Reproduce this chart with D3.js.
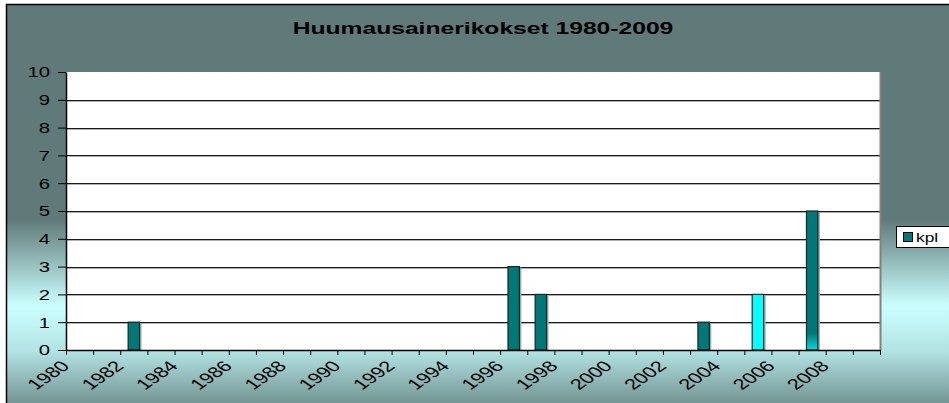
<!DOCTYPE html>
<html>
<head>
<meta charset="utf-8">
<script src="https://cdn.jsdelivr.net/npm/d3@7"></script>
<style>
  body { margin: 0; background: #fff; }
  svg { display: block; }
  text { font-family: "Liberation Sans", Arial, sans-serif; fill: #000; }
</style>
</head>
<body>
<div id="chart"></div>
<script>
// Data
const chartTitle = "Huumausainerikokset 1980-2009";
const seriesName = "kpl";
const years = ["1980", "1981", "1982", "1983", "1984", "1985", "1986", "1987", "1988", "1989",
  "1990", "1991", "1992", "1993", "1994", "1995", "1996", "1997", "1998", "1999",
  "2000", "2001", "2002", "2003", "2004", "2005", "2006", "2007", "2008", "2009"];
const counts = [0, 0, 1, 0, 0, 0, 0, 0, 0, 0,
  0, 0, 0, 0, 0, 0, 3, 2, 0, 0,
  0, 0, 0, 1, 0, 2, 0, 5, 0, 0];
const tickYears = ["1980", "1982", "1984", "1986", "1988", "1990", "1992", "1994",
  "1996", "1998", "2000", "2002", "2004", "2006", "2008"];
const yTicks = [0, 1, 2, 3, 4, 5, 6, 7, 8, 9, 10];

const width = 949;
const height = 403;
const stretch = 1.45; // the source image is widened, text looks wide
const plot = { left: 66, right: 880, top: 72, bottom: 350 };

const svg = d3.select("#chart").append("svg")
  .attr("width", width)
  .attr("height", height);

const defs = svg.append("defs");
const bg = defs.append("linearGradient")
  .attr("id", "bg-grad")
  .attr("x1", "0%").attr("y1", "0%")
  .attr("x2", "0%").attr("y2", "100%");
bg.selectAll("stop").data([
  { offset: "0%", color: "#5f7a78" },
  { offset: "52%", color: "#5f7a78" },
  { offset: "73%", color: "#cbffff" },
  { offset: "84%", color: "#b2e2e2" },
  { offset: "100%", color: "#62807e" },
]).join("stop")
  .attr("offset", (d) => d.offset)
  .attr("stop-color", (d) => d.color);

// 2007 bar fades into cyan at the foot
const barGrad = defs.append("linearGradient")
  .attr("id", "bar-grad")
  .attr("x1", "0%").attr("y1", "0%")
  .attr("x2", "0%").attr("y2", "100%");
barGrad.selectAll("stop").data([
  { offset: "0%", color: "#007878" },
  { offset: "88%", color: "#007878" },
  { offset: "100%", color: "#00dcdc" },
]).join("stop")
  .attr("offset", (d) => d.offset)
  .attr("stop-color", (d) => d.color);

// chart area
svg.append("rect")
  .attr("x", 6.5).attr("y", 4.5)
  .attr("width", width + 10).attr("height", height + 10)
  .attr("fill", "url(#bg-grad)")
  .attr("stroke", "#000").attr("stroke-width", 1.5);

// title
svg.append("text")
  .attr("transform", `translate(483,34) scale(${stretch},1)`)
  .attr("text-anchor", "middle")
  .attr("font-size", "17px")
  .attr("font-weight", "bold")
  .text(chartTitle);

// scales
const xScale = d3.scaleBand().domain(years).range([plot.left, plot.right]).padding(0);
const yScale = d3.scaleLinear().domain([0, 10]).range([plot.bottom, plot.top]);
const edgeScale = d3.scaleLinear().domain([0, years.length]).range([plot.left, plot.right]);

// plot area
svg.append("rect")
  .attr("x", plot.left).attr("y", plot.top)
  .attr("width", plot.right - plot.left)
  .attr("height", plot.bottom - plot.top)
  .attr("fill", "#fff");

const gridG = svg.append("g").attr("class", "grid");
const gridVals = yTicks.filter((v) => v > 0 && v < 10);
gridG.selectAll("line.shade").data(gridVals).join("line")
  .attr("class", "shade")
  .attr("x1", plot.left).attr("x2", plot.right)
  .attr("y1", (d) => Math.round(yScale(d)) + 1.5)
  .attr("y2", (d) => Math.round(yScale(d)) + 1.5)
  .attr("stroke", "#b0b0b0");
gridG.selectAll("line.main").data(gridVals).join("line")
  .attr("class", "main")
  .attr("x1", plot.left).attr("x2", plot.right)
  .attr("y1", (d) => Math.round(yScale(d)) + 0.5)
  .attr("y2", (d) => Math.round(yScale(d)) + 0.5)
  .attr("stroke", "#1a1a1a");

// right border of plot
svg.append("line")
  .attr("x1", plot.right + 0.5).attr("x2", plot.right + 0.5)
  .attr("y1", plot.top).attr("y2", plot.bottom)
  .attr("stroke", "#808080").attr("stroke-width", 2);

// bars
const barW = xScale.bandwidth() * 0.42;
const barData = years.map((y, i) => ({ year: y, value: counts[i] })).filter((d) => d.value > 0);
const fills = { "2005": "#00ffff", "2007": "url(#bar-grad)" };

const barsG = svg.append("g").attr("class", "bars");
barsG.selectAll("rect.shadow").data(barData).join("rect")
  .attr("class", "shadow")
  .attr("x", (d) => xScale(d.year) + (xScale.bandwidth() - barW) / 2 + 2)
  .attr("y", (d) => yScale(d.value) + 1)
  .attr("width", barW)
  .attr("height", (d) => yScale(0) - yScale(d.value) - 1)
  .attr("fill", "#a8a8a8");
barsG.selectAll("rect.bar").data(barData).join("rect")
  .attr("class", "bar")
  .attr("x", (d) => xScale(d.year) + (xScale.bandwidth() - barW) / 2)
  .attr("y", (d) => yScale(d.value))
  .attr("width", barW)
  .attr("height", (d) => yScale(0) - yScale(d.value))
  .attr("fill", (d) => fills[d.year] || "#007878")
  .attr("stroke", "#0d2a2a").attr("stroke-width", 1.2);

// y axis
const yAxisG = svg.append("g")
  .attr("transform", `translate(${plot.left},0)`)
  .call(d3.axisLeft(yScale).tickValues(yTicks).tickSize(8).tickSizeOuter(0));
yAxisG.select(".domain").attr("stroke", "#000").attr("stroke-width", 1.5);
yAxisG.selectAll(".tick line").attr("stroke", "#000");
yAxisG.selectAll(".tick text")
  .attr("x", null)
  .attr("dy", "0.35em")
  .attr("transform", `translate(-16,0) scale(${stretch},1)`)
  .attr("font-size", "14px")
  .attr("font-family", "Liberation Sans, Arial, sans-serif")
  .attr("fill", "#000");

// x axis: ticks sit on category edges
const xAxisG = svg.append("g")
  .attr("transform", `translate(0,${plot.bottom})`)
  .call(d3.axisBottom(edgeScale).tickValues(d3.range(0, years.length + 1)).tickSize(5).tickSizeOuter(0).tickFormat(""));
xAxisG.select(".domain").attr("stroke", "#000").attr("stroke-width", 1.5);
xAxisG.selectAll(".tick line").attr("stroke", "#000");

svg.append("g").attr("class", "x-labels")
  .selectAll("text").data(tickYears).join("text")
  .attr("transform", (d) => `translate(${xScale(d) + xScale.bandwidth() / 2 - 9},${plot.bottom + 17}) scale(${stretch},1) rotate(-45)`)
  .attr("text-anchor", "end")
  .attr("font-size", "15px")
  .text((d) => d);

// legend
const legendG = svg.append("g").attr("transform", "translate(896,226)");
legendG.append("rect")
  .attr("x", 0.5).attr("y", 0.5)
  .attr("width", 70).attr("height", 21)
  .attr("fill", "#fff").attr("stroke", "#000");
legendG.append("rect")
  .attr("x", 7.5).attr("y", 6.5)
  .attr("width", 9).attr("height", 9)
  .attr("fill", "#007878").attr("stroke", "#000");
legendG.append("text")
  .attr("transform", `translate(20,15.5) scale(${stretch},1)`)
  .attr("font-size", "12px")
  .text(seriesName);
</script>
</body>
</html>
